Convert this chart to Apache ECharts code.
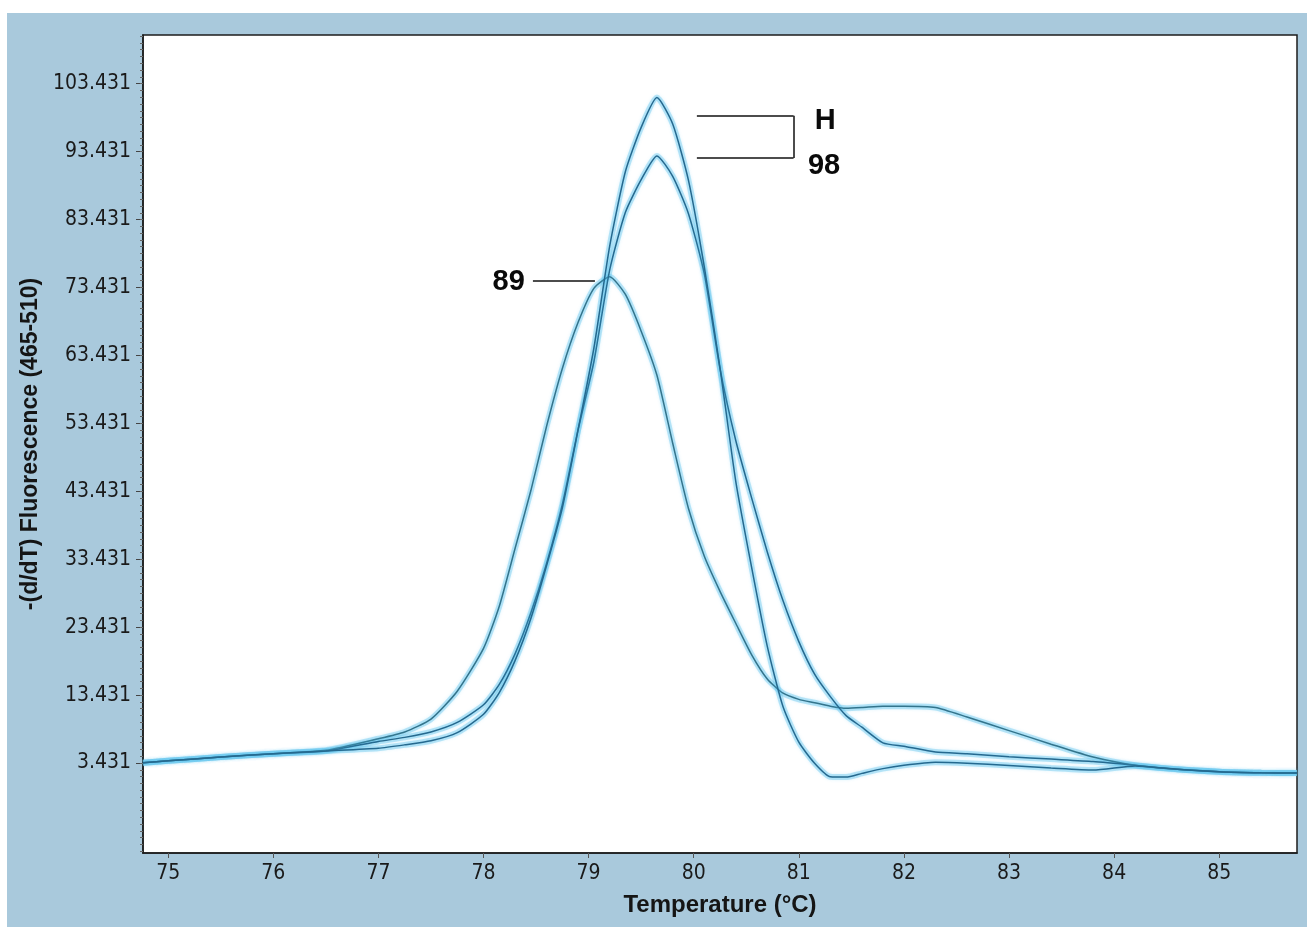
<!DOCTYPE html>
<html>
<head>
<meta charset="utf-8">
<script src="https://cdn.jsdelivr.net/npm/echarts@6/dist/echarts.min.js"></script>
<style>
  html, body { margin: 0; padding: 0; background: #fff; }
  #chart { position: absolute; left: 7px; top: 13px; width: 1300px; height: 914px; }
</style>
</head>
<body>
<div id="chart"></div>
<script>
// temperature grid (°C)
var temps = [74.76, 75.0, 75.5, 76.0, 76.5, 77.0, 77.25, 77.5, 77.75, 78.0, 78.15, 78.3, 78.45, 78.6, 78.75,
  78.9, 79.05, 79.2, 79.35, 79.5, 79.65, 79.8, 79.95, 80.1, 80.25, 80.4, 80.55, 80.7, 80.85, 81.0,
  81.15, 81.3, 81.45, 81.6, 81.8, 82.0, 82.3, 82.6, 83.0, 83.4, 83.8, 84.2, 84.6, 85.0, 85.4, 85.74];

// -(d/dT) fluorescence for the three samples
var sampleH = [3.45, 3.75, 4.3, 4.8, 5.2, 5.6, 6.1, 6.7, 7.9, 10.6, 13.8, 18.5, 24.7, 32.5, 41.0,
  52.5, 64.5, 79.5, 90.5, 97.0, 101.4, 97.5, 89.2, 76.5, 61.6, 44.9, 32.3, 20.6, 11.7, 6.5,
  3.4, 1.4, 1.35, 1.9, 2.6, 3.1, 3.55, 3.4, 3.05, 2.7, 2.4, 3.0, 2.5, 2.15, 2.0, 1.95];
var sample98 = [3.45, 3.75, 4.3, 4.8, 5.2, 6.6, 7.2, 8.0, 9.4, 12.0, 15.0, 19.5, 25.5, 32.8, 41.5,
  52.5, 62.5, 76.0, 84.5, 89.3, 92.8, 89.8, 84.3, 75.5, 61.5, 50.9, 42.5, 34.5, 27.3, 21.3,
  16.5, 13.2, 10.4, 8.7, 6.4, 5.9, 5.05, 4.8, 4.35, 4.0, 3.65, 3.1, 2.5, 2.15, 2.0, 1.95];
var sample89 = [3.45, 3.75, 4.3, 4.8, 5.3, 7.0, 8.0, 9.9, 14.0, 20.3, 26.5, 35.0, 43.5, 53.0, 61.5,
  68.3, 73.3, 75.0, 72.4, 67.0, 60.5, 50.5, 40.9, 33.9, 28.7, 24.0, 19.4, 15.8, 13.7, 12.8,
  12.3, 11.8, 11.5, 11.6, 11.8, 11.8, 11.6, 10.2, 8.2, 6.2, 4.3, 3.1, 2.5, 2.15, 2.0, 1.95];

var xTicks = [75, 76, 77, 78, 79, 80, 81, 82, 83, 84, 85];
var yTicks = [3.431, 13.431, 23.431, 33.431, 43.431, 53.431, 63.431, 73.431, 83.431, 93.431, 103.431];

// annotation labels
var labelTexts = ['H', '98', '89'];
var labelPos = [[81.25, 97.9], [81.24, 91.3], [78.24, 74.3]];

var minorTicks = [];
for (var k = -13; k <= 107; k++) { minorTicks.push(+(3.431 + k).toFixed(3)); }

function pair(xs, ys) {
  var out = [];
  for (var i = 0; i < xs.length; i++) out.push([xs[i], ys[i]]);
  return out;
}

var narrow = "'DejaVu Sans Condensed', 'DejaVu Sans', sans-serif";
var arial = "'Liberation Sans', Arial, sans-serif";

// each curve: a light cyan halo underneath, then the thin dark trace
function halo(name, ys) {
  return {
    name: name + '-halo', type: 'line', data: pair(temps, ys), showSymbol: false, silent: true,
    smooth: 0.2, z: 1,
    lineStyle: { width: 6, color: 'rgba(120, 205, 240, 0.45)' }
  };
}
function trace(name, ys, color) {
  return {
    name: name, type: 'line', data: pair(temps, ys), showSymbol: false, silent: true,
    smooth: 0.2, z: 3,
    lineStyle: { width: 1.5, color: color, shadowColor: 'rgba(80, 195, 240, 0.8)', shadowBlur: 4 }
  };
}

var myChart = echarts.init(document.getElementById('chart'));
var option = {
  backgroundColor: '#a9c9dc',
  animation: false,
  grid: {
    left: 136, top: 22, right: 10, bottom: 74,
    containLabel: false, outerBoundsMode: 'none',
    show: true, backgroundColor: '#ffffff', borderColor: '#1c1c1c', borderWidth: 1.5
  },
  xAxis: {
    type: 'value', min: 74.76, max: 85.74,
    name: 'Temperature (°C)', nameLocation: 'middle', nameGap: 40,
    nameTextStyle: { fontFamily: arial, fontWeight: 'bold', fontSize: 24, color: '#151515' },
    axisLine: { onZero: false, lineStyle: { color: '#1c1c1c', width: 1.5 } },
    axisTick: { customValues: xTicks, length: 5, lineStyle: { color: '#555' } },
    axisLabel: { customValues: xTicks, margin: 10, fontFamily: narrow, fontSize: 21, color: '#1a1a1a' },
    splitLine: { show: false }
  },
  yAxis: [{
    type: 'value', min: -9.82, max: 110.6,
    name: '-(d/dT) Fluorescence (465-510)', nameLocation: 'middle', nameGap: 84, nameRotate: 90,
    nameTextStyle: { fontFamily: arial, fontWeight: 'bold', fontSize: 23, color: '#151515' },
    axisLine: { show: true, onZero: false, lineStyle: { color: '#1c1c1c', width: 1.5 } },
    axisTick: { customValues: yTicks, length: 7, lineStyle: { color: '#444' } },
    axisLabel: {
      customValues: yTicks, margin: 12, fontFamily: narrow, fontSize: 21, color: '#1a1a1a',
      formatter: function (v) { return v.toFixed(3); }
    },
    splitLine: { show: false }
  }, {
    type: 'value', min: -9.82, max: 110.6, position: 'left',
    axisLine: { show: false, onZero: false },
    axisTick: { customValues: minorTicks, length: 3, lineStyle: { color: '#666' } },
    axisLabel: { show: false },
    splitLine: { show: false }
  }],
  series: [
    halo('89', sample89),
    halo('98', sample98),
    halo('H', sampleH),
    trace('89', sample89, '#33748c'),
    trace('98', sample98, '#25698f'),
    Object.assign(trace('H', sampleH, '#25698f'), {
      markLine: {
        silent: true, symbol: 'none', label: { show: false },
        lineStyle: { color: '#111', width: 1.5, type: 'solid', opacity: 1, shadowBlur: 0 },
        data: [
          [{ coord: [80.03, 98.7] }, { coord: [80.95, 98.7] }],
          [{ coord: [80.95, 98.7] }, { coord: [80.95, 92.5] }],
          [{ coord: [80.03, 92.5] }, { coord: [80.95, 92.5] }],
          [{ coord: [78.47, 74.4] }, { coord: [79.06, 74.4] }]
        ]
      }
    }),
    {
      name: 'labels', type: 'scatter', symbolSize: 0, silent: true, z: 5,
      itemStyle: { opacity: 1 },
      data: labelPos.map(function (p, i) { return { value: p, name: labelTexts[i] }; }),
      label: {
        show: true, position: 'inside', formatter: '{b}',
        fontFamily: arial, fontWeight: 'bold', fontSize: 29, color: '#0a0a0a'
      }
    }
  ]
};
myChart.setOption(option);
</script>
</body>
</html>
